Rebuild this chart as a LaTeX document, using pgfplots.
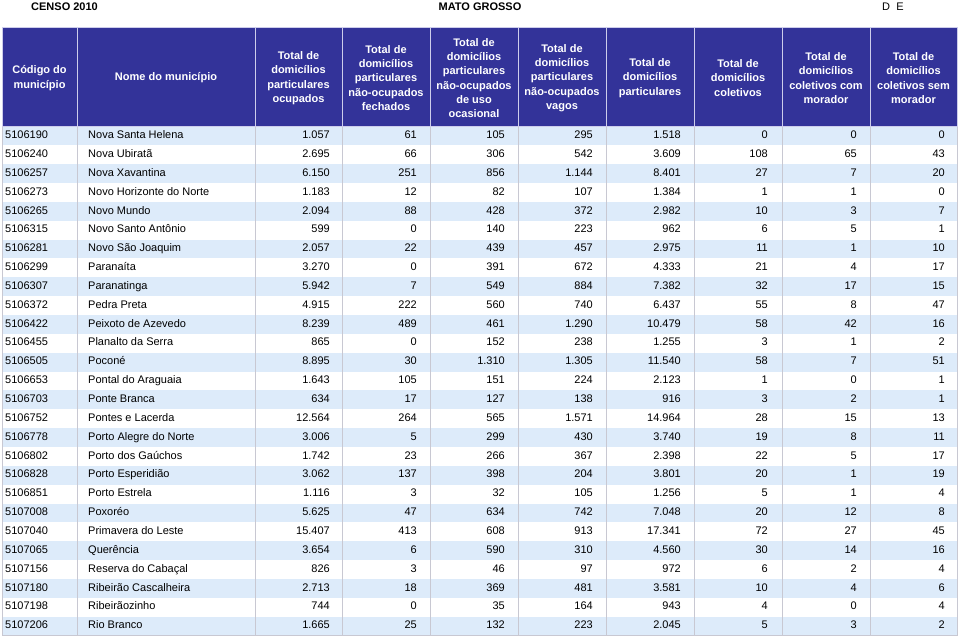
\documentclass[border=0pt]{standalone}
\usepackage{fontspec}
\setmainfont{Liberation Sans}
\usepackage{pgfplots}
\usepackage{pgfplotstable}
\pgfplotsset{compat=1.18}
\definecolor{hdr}{RGB}{51,51,153}
\definecolor{stripe}{RGB}{221,235,250}
\definecolor{gridc}{RGB}{200,200,210}
\definecolor{hsep}{RGB}{205,205,235}

\pgfplotstableread[col sep=semicolon]{
code;name;ocup;fech;ocas;vagos;part;colet;com;sem
5106190;Nova Santa Helena;1.057;61;105;295;1.518;0;0;0
5106240;Nova Ubiratã;2.695;66;306;542;3.609;108;65;43
5106257;Nova Xavantina;6.150;251;856;1.144;8.401;27;7;20
5106273;Novo Horizonte do Norte;1.183;12;82;107;1.384;1;1;0
5106265;Novo Mundo;2.094;88;428;372;2.982;10;3;7
5106315;Novo Santo Antônio;599;0;140;223;962;6;5;1
5106281;Novo São Joaquim;2.057;22;439;457;2.975;11;1;10
5106299;Paranaíta;3.270;0;391;672;4.333;21;4;17
5106307;Paranatinga;5.942;7;549;884;7.382;32;17;15
5106372;Pedra Preta;4.915;222;560;740;6.437;55;8;47
5106422;Peixoto de Azevedo;8.239;489;461;1.290;10.479;58;42;16
5106455;Planalto da Serra;865;0;152;238;1.255;3;1;2
5106505;Poconé;8.895;30;1.310;1.305;11.540;58;7;51
5106653;Pontal do Araguaia;1.643;105;151;224;2.123;1;0;1
5106703;Ponte Branca;634;17;127;138;916;3;2;1
5106752;Pontes e Lacerda;12.564;264;565;1.571;14.964;28;15;13
5106778;Porto Alegre do Norte;3.006;5;299;430;3.740;19;8;11
5106802;Porto dos Gaúchos;1.742;23;266;367;2.398;22;5;17
5106828;Porto Esperidião;3.062;137;398;204;3.801;20;1;19
5106851;Porto Estrela;1.116;3;32;105;1.256;5;1;4
5107008;Poxoréo;5.625;47;634;742;7.048;20;12;8
5107040;Primavera do Leste;15.407;413;608;913;17.341;72;27;45
5107065;Querência;3.654;6;590;310;4.560;30;14;16
5107156;Reserva do Cabaçal;826;3;46;97;972;6;2;4
5107180;Ribeirão Cascalheira;2.713;18;369;481;3.581;10;4;6
5107198;Ribeirãozinho;744;0;35;164;943;4;0;4
5107206;Rio Branco;1.665;25;132;223;2.045;5;3;2
}\data

\newcommand{\colplot}[3]{%
  \addplot[draw=none, mark=none, nodes near coords, point meta=explicit symbolic,
    nodes near coords align={anchor=#3},
    every node near coord/.append style={inner sep=0pt, font=\fontsize{11}{13}\selectfont, text=black, text height=1.45ex, text depth=0.3ex}]
    table[x expr=#2, y expr=135.6+\coordindex*18.85, meta=#1]{\data};}

\begin{document}
\begin{tikzpicture}
\begin{axis}[
  width=960pt, height=638pt, scale only axis,
  xmin=0, xmax=960, ymin=0, ymax=638, y dir=reverse,
  hide axis, clip=false]
% header background
\fill[hdr] (axis cs:2,27) rectangle (axis cs:958,126.5);
% stripes
\pgfplotsinvokeforeach{0,2,...,26}{%
  \fill[stripe] (axis cs:2,{126.5+#1*18.85}) rectangle (axis cs:958,{126.5+(#1+1)*18.85});}
% body grid
\pgfplotsinvokeforeach{2,77,255,342,430,518,606,694,782,870,957.5}{%
  \draw[gridc, line width=0.8pt] (axis cs:#1,126.5) -- (axis cs:#1,635.5);}
\draw[gridc, line width=0.8pt] (axis cs:2,635.5) -- (axis cs:957.5,635.5);
% header separators
\pgfplotsinvokeforeach{77,255,342,430,518,606,694,782,870}{%
  \draw[hsep, line width=1pt] (axis cs:#1,27) -- (axis cs:#1,126.5);}
\draw[hsep, line width=1pt] (axis cs:2,27) rectangle (axis cs:957.5,126.5);
% header texts
\begin{scope}[every node/.style={align=center, text=white, font=\bfseries\fontsize{11}{14.3}\selectfont, inner sep=0pt}]
\node at (axis cs:39.5,78) {Código do\\município};
\node at (axis cs:166,78) {Nome do município};
\node at (axis cs:298.5,78) {Total de\\domicílios\\particulares\\ocupados};
\node at (axis cs:386,78) {Total de\\domicílios\\particulares\\não-ocupados\\fechados};
\node at (axis cs:474,78) {Total de\\domicílios\\particulares\\não-ocupados\\de uso\\ocasional};
\node at (axis cs:562,78) {Total de\\domicílios\\particulares\\não-ocupados\\vagos};
\node at (axis cs:650,78) {Total de\\domicílios\\particulares};
\node at (axis cs:738,78) {Total de\\domicílios\\coletivos};
\node at (axis cs:826,78) {Total de\\domicílios\\coletivos com\\morador};
\node at (axis cs:913.5,78) {Total de\\domicílios\\coletivos sem\\morador};
\end{scope}
% titles
\node[anchor=west, inner sep=0pt, font=\bfseries\fontsize{11}{13}\selectfont] at (axis cs:31,6.5) {CENSO 2010};
\node[inner sep=0pt, font=\bfseries\fontsize{11}{13}\selectfont] at (axis cs:480,6.5) {MATO GROSSO};
\node[anchor=west, inner sep=0pt, font=\fontsize{11}{13}\selectfont] at (axis cs:882,6.5) {D\ \ E};
% data columns
\colplot{code}{5}{west}
\colplot{name}{88}{west}
\colplot{ocup}{330}{east}
\colplot{fech}{417}{east}
\colplot{ocas}{505}{east}
\colplot{vagos}{593}{east}
\colplot{part}{681}{east}
\colplot{colet}{768}{east}
\colplot{com}{857}{east}
\colplot{sem}{945}{east}
\end{axis}
\pgfresetboundingbox
\path[use as bounding box] (current axis.south west) rectangle (current axis.north east);
\end{tikzpicture}
\end{document}
